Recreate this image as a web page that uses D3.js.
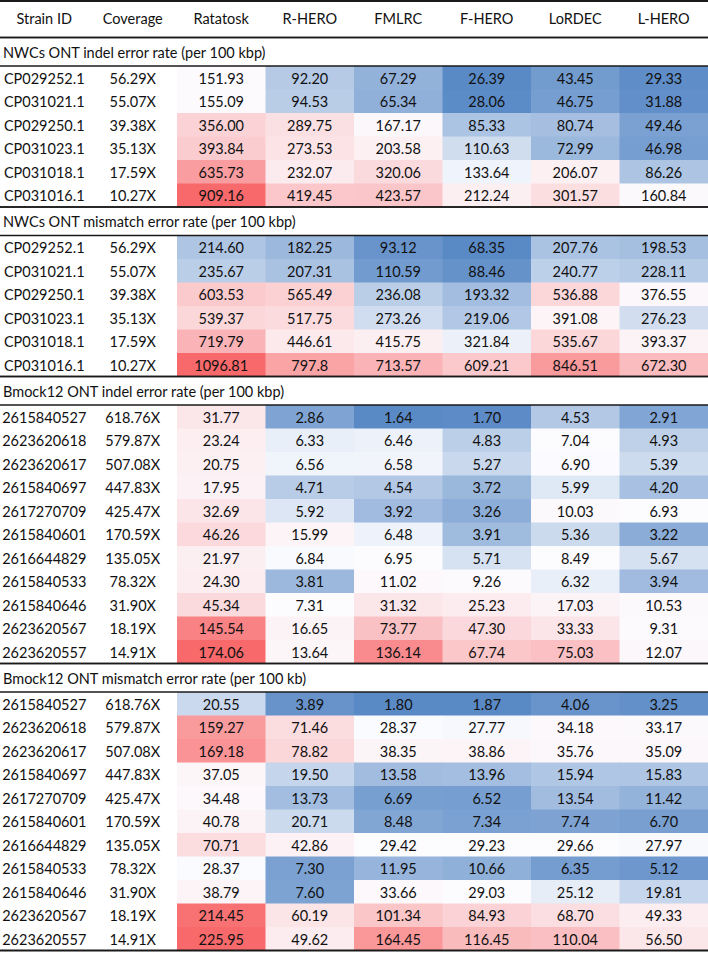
<!DOCTYPE html>
<html>
<head>
<meta charset="utf-8">
<script src="https://cdn.jsdelivr.net/npm/d3@7"></script>
<style>
  html, body { margin: 0; padding: 0; background: #fff; }
  svg { display: block; }
  text { font-family: Lato, "Open Sans", sans-serif; fill: #111; }
</style>
</head>
<body>
<svg id="chart" width="708" height="956"></svg>
<script>
// ---------- data ----------
const columns = ["Strain ID", "Coverage", "Ratatosk", "R-HERO", "FMLRC", "F-HERO", "LoRDEC", "L-HERO"];
const methods = ["Ratatosk", "R-HERO", "FMLRC", "F-HERO", "LoRDEC", "L-HERO"];

const sectionTitles = [
  "NWCs ONT indel error rate (per 100 kbp)",
  "NWCs ONT mismatch error rate (per 100 kbp)",
  "Bmock12 ONT indel error rate (per 100 kbp)",
  "Bmock12 ONT mismatch error rate (per 100 kb)"
];

const nwcIds = ["CP029252.1", "CP031021.1", "CP029250.1", "CP031023.1", "CP031018.1", "CP031016.1"];
const nwcCoverage = ["56.29X", "55.07X", "39.38X", "35.13X", "17.59X", "10.27X"];

const bmockIds = ["2615840527", "2623620618", "2623620617", "2615840697", "2617270709", "2615840601",
  "2616644829", "2615840533", "2615840646", "2623620567", "2623620557"];
const bmockCoverage = ["618.76X", "579.87X", "507.08X", "447.83X", "425.47X", "170.59X",
  "135.05X", "78.32X", "31.90X", "18.19X", "14.91X"];

const nwcIndel = [
  ["151.93", "92.20", "67.29", "26.39", "43.45", "29.33"],
  ["155.09", "94.53", "65.34", "28.06", "46.75", "31.88"],
  ["356.00", "289.75", "167.17", "85.33", "80.74", "49.46"],
  ["393.84", "273.53", "203.58", "110.63", "72.99", "46.98"],
  ["635.73", "232.07", "320.06", "133.64", "206.07", "86.26"],
  ["909.16", "419.45", "423.57", "212.24", "301.57", "160.84"]
];
const nwcMismatch = [
  ["214.60", "182.25", "93.12", "68.35", "207.76", "198.53"],
  ["235.67", "207.31", "110.59", "88.46", "240.77", "228.11"],
  ["603.53", "565.49", "236.08", "193.32", "536.88", "376.55"],
  ["539.37", "517.75", "273.26", "219.06", "391.08", "276.23"],
  ["719.79", "446.61", "415.75", "321.84", "535.67", "393.37"],
  ["1096.81", "797.8", "713.57", "609.21", "846.51", "672.30"]
];
const bmockIndel = [
  ["31.77", "2.86", "1.64", "1.70", "4.53", "2.91"],
  ["23.24", "6.33", "6.46", "4.83", "7.04", "4.93"],
  ["20.75", "6.56", "6.58", "5.27", "6.90", "5.39"],
  ["17.95", "4.71", "4.54", "3.72", "5.99", "4.20"],
  ["32.69", "5.92", "3.92", "3.26", "10.03", "6.93"],
  ["46.26", "15.99", "6.48", "3.91", "5.36", "3.22"],
  ["21.97", "6.84", "6.95", "5.71", "8.49", "5.67"],
  ["24.30", "3.81", "11.02", "9.26", "6.32", "3.94"],
  ["45.34", "7.31", "31.32", "25.23", "17.03", "10.53"],
  ["145.54", "16.65", "73.77", "47.30", "33.33", "9.31"],
  ["174.06", "13.64", "136.14", "67.74", "75.03", "12.07"]
];
const bmockMismatch = [
  ["20.55", "3.89", "1.80", "1.87", "4.06", "3.25"],
  ["159.27", "71.46", "28.37", "27.77", "34.18", "33.17"],
  ["169.18", "78.82", "38.35", "38.86", "35.76", "35.09"],
  ["37.05", "19.50", "13.58", "13.96", "15.94", "15.83"],
  ["34.48", "13.73", "6.69", "6.52", "13.54", "11.42"],
  ["40.78", "20.71", "8.48", "7.34", "7.74", "6.70"],
  ["70.71", "42.86", "29.42", "29.23", "29.66", "27.97"],
  ["28.37", "7.30", "11.95", "10.66", "6.35", "5.12"],
  ["38.79", "7.60", "33.66", "29.03", "25.12", "19.81"],
  ["214.45", "60.19", "101.34", "84.93", "68.70", "49.33"],
  ["225.95", "49.62", "164.45", "116.45", "110.04", "56.50"]
];

// ---------- layout ----------
const W = 708;
const headerTop = 1, headerBottom = 37.5;
const titleH = 28.5;
const rowH = 23.5;
const lowColor = "#5A8AC6", midColor = "#FCFCFF", highColor = "#F8696B";

const sections = [
  { title: sectionTitles[0], ids: nwcIds, cov: nwcCoverage, vals: nwcIndel },
  { title: sectionTitles[1], ids: nwcIds, cov: nwcCoverage, vals: nwcMismatch },
  { title: sectionTitles[2], ids: bmockIds, cov: bmockCoverage, vals: bmockIndel },
  { title: sectionTitles[3], ids: bmockIds, cov: bmockCoverage, vals: bmockMismatch }
];

const svg = d3.select("#chart");
const x = d3.scaleBand().domain(columns).range([0, W]);

// header
svg.selectAll("text.hdr").data(columns).join("text")
  .attr("class", "hdr")
  .attr("x", d => x(d) + x.bandwidth() / 2)
  .attr("y", (headerTop + headerBottom) / 2)
  .attr("dy", "0.35em")
  .attr("text-anchor", "middle")
  .attr("font-size", 14.5)
  .text(d => d);

const lines = [{ y: headerTop, w: 2 }, { y: headerBottom, w: 1.6 }];

let yCursor = headerBottom;
sections.forEach((sec, si) => {
  const titleTop = yCursor;
  const dataTop = titleTop + titleH;
  const dataBottom = dataTop + rowH * sec.ids.length;
  yCursor = dataBottom;

  const g = svg.append("g");
  g.append("text")
    .attr("x", 3)
    .attr("y", (titleTop + dataTop) / 2 + 1)
    .attr("dy", "0.35em")
    .attr("font-size", 14.5)
    .text(sec.title);

  const y = d3.scaleBand().domain(sec.ids).range([dataTop, dataBottom]);
  const flat = sec.vals.flat().map(Number);
  const color = d3.scaleLinear()
    .domain([d3.min(flat), d3.median(flat), d3.max(flat)])
    .range([lowColor, midColor, highColor])
    .interpolate(d3.interpolateRgb);

  const cells = [];
  sec.ids.forEach((id, ri) => {
    sec.vals[ri].forEach((v, ci) => cells.push({ id, col: methods[ci], v }));
  });

  g.selectAll("rect").data(cells).join("rect")
    .attr("x", d => x(d.col))
    .attr("y", d => y(d.id))
    .attr("width", x.bandwidth() + 0.5)
    .attr("height", y.bandwidth() + 0.5)
    .attr("fill", d => color(+d.v));

  g.selectAll("text.val").data(cells).join("text")
    .attr("class", "val")
    .attr("x", d => x(d.col) + x.bandwidth() / 2)
    .attr("y", d => y(d.id) + y.bandwidth() / 2 + 1)
    .attr("dy", "0.35em")
    .attr("text-anchor", "middle")
    .attr("font-size", 14.5)
    .text(d => d.v);

  g.selectAll("text.id").data(sec.ids).join("text")
    .attr("class", "id")
    .attr("x", x("Strain ID") + x.bandwidth() / 2)
    .attr("y", d => y(d) + y.bandwidth() / 2 + 1)
    .attr("dy", "0.35em")
    .attr("text-anchor", "middle")
    .attr("font-size", 14.5)
    .text(d => d);

  g.selectAll("text.cov").data(sec.cov).join("text")
    .attr("class", "cov")
    .attr("x", x("Coverage") + x.bandwidth() / 2)
    .attr("y", (d, i) => y(sec.ids[i]) + y.bandwidth() / 2 + 1)
    .attr("dy", "0.35em")
    .attr("text-anchor", "middle")
    .attr("font-size", 14.5)
    .text(d => d);

  lines.push({ y: titleTop, w: 1.6 }, { y: dataTop, w: 1.6 }, { y: dataBottom, w: si === 3 ? 2 : 1.6 });
});

svg.selectAll("line.rule").data(lines).join("line")
  .attr("class", "rule")
  .attr("x1", 0).attr("x2", W)
  .attr("y1", d => d.y).attr("y2", d => d.y)
  .attr("stroke", "#1a1a1a")
  .attr("stroke-width", d => d.w);
</script>
</body>
</html>
